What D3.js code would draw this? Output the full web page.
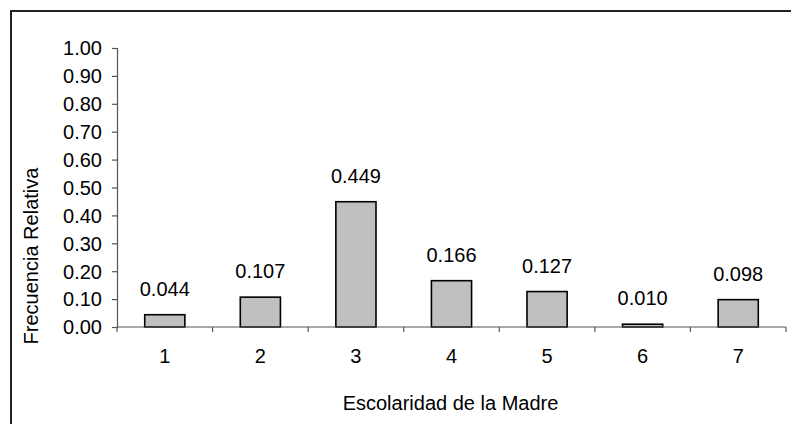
<!DOCTYPE html>
<html>
<head>
<meta charset="utf-8">
<script src="https://cdn.jsdelivr.net/npm/d3@7"></script>
<style>
  html, body { margin: 0; padding: 0; background: #fff; }
  svg text { font-family: "Liberation Sans", Arial, sans-serif; fill: #000; }
</style>
</head>
<body>
<svg id="chart" width="791" height="424"></svg>
<script>
const categories = ["1", "2", "3", "4", "5", "6", "7"];
const values = [0.044, 0.107, 0.449, 0.166, 0.127, 0.010, 0.098];
const valueLabels = ["0.044", "0.107", "0.449", "0.166", "0.127", "0.010", "0.098"];
const yTicks = [0, 0.1, 0.2, 0.3, 0.4, 0.5, 0.6, 0.7, 0.8, 0.9, 1.0];
const xTitle = "Escolaridad de la Madre";
const yTitle = "Frecuencia Relativa";

const svg = d3.select("#chart");
const plot = { left: 117, right: 786, top: 48, bottom: 327 };
const fontSize = 20;

// outer frame (extends beyond the visible area on right and bottom)
svg.append("rect")
  .attr("x", 11).attr("y", 11)
  .attr("width", 900).attr("height", 600)
  .attr("fill", "none").attr("stroke", "#222").attr("stroke-width", 2);

const x = d3.scaleBand().domain(categories).range([plot.left, plot.right]).paddingInner(0).paddingOuter(0);
const y = d3.scaleLinear().domain([0, 1]).range([plot.bottom, plot.top]);
const barW = x.bandwidth() * 0.42;

// bars
svg.append("g").selectAll("rect").data(values).join("rect")
  .attr("x", (d, i) => x(categories[i]) + (x.bandwidth() - barW) / 2)
  .attr("y", d => y(d))
  .attr("width", barW)
  .attr("height", d => y(0) - y(d))
  .attr("fill", "#c0c0c0")
  .attr("stroke", "#000")
  .attr("stroke-width", 1.6);

// value labels
svg.append("g").selectAll("text").data(values).join("text")
  .attr("x", (d, i) => x(categories[i]) + x.bandwidth() / 2)
  .attr("y", d => y(d) - 19)
  .attr("text-anchor", "middle")
  .attr("font-size", fontSize)
  .text((d, i) => valueLabels[i]);

// y axis
const yAxis = d3.axisLeft(y).tickValues(yTicks).tickFormat(d3.format(".2f")).tickSize(5).tickPadding(10);
const gy = svg.append("g").attr("transform", `translate(${plot.left},0)`).call(yAxis);
gy.select(".domain").attr("stroke", "#555").attr("stroke-width", 1.2);
gy.selectAll(".tick line").attr("stroke", "#555").attr("stroke-width", 1.2);
gy.selectAll(".tick text").attr("font-size", fontSize).attr("font-family", "Liberation Sans, Arial, sans-serif").attr("dy", "0.34em");

// x axis: ticks at band boundaries
const xAxisLine = svg.append("g").attr("transform", `translate(0,${plot.bottom})`);
xAxisLine.append("line")
  .attr("x1", plot.left).attr("x2", plot.right)
  .attr("y1", 0).attr("y2", 0)
  .attr("stroke", "#555").attr("stroke-width", 1.2);
const boundaries = categories.map(c => x(c)).concat([x(categories[categories.length - 1]) + x.bandwidth()]);
xAxisLine.selectAll("line.tk").data(boundaries).join("line")
  .attr("class", "tk")
  .attr("x1", d => d).attr("x2", d => d)
  .attr("y1", 0).attr("y2", 5)
  .attr("stroke", "#555").attr("stroke-width", 1.2);
xAxisLine.selectAll("text").data(categories).join("text")
  .attr("x", d => x(d) + x.bandwidth() / 2)
  .attr("y", 36)
  .attr("text-anchor", "middle")
  .attr("font-size", fontSize)
  .text(d => d);

// axis titles
svg.append("text")
  .attr("x", 450.5).attr("y", 410)
  .attr("text-anchor", "middle")
  .attr("font-size", fontSize)
  .text(xTitle);

svg.append("text")
  .attr("transform", "translate(38,256) rotate(-90)")
  .attr("text-anchor", "middle")
  .attr("font-size", fontSize)
  .text(yTitle);
</script>
</body>
</html>
